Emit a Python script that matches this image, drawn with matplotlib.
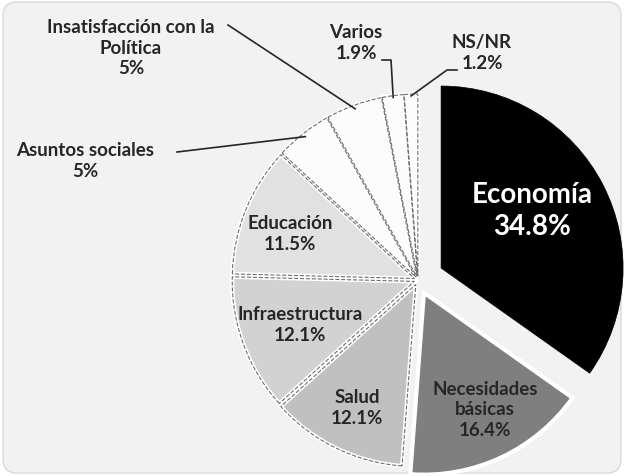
import numpy as np
import matplotlib
matplotlib.use("Agg")
import matplotlib.pyplot as plt
from matplotlib.patches import FancyBboxPatch

plt.rcParams['font.family'] = ['Lato', 'DejaVu Sans']

# data
categories = ["Economía", "Necesidades\nbásicas", "Salud", "Infraestructura", "Educación",
              "Asuntos sociales", "Insatisfacción con la\nPolítica", "Varios", "NS/NR"]
values = [34.8, 16.4, 12.1, 12.1, 11.5, 5, 5, 1.9, 1.2]
pct_labels = ["34.8%", "16.4%", "12.1%", "12.1%", "11.5%", "5%", "5%", "1.9%", "1.2%"]

colors = ["#000000", "#7f7f7f", "#c0c0c0", "#d2d2d2", "#e1e1e1",
          "#fcfcfc", "#fcfcfc", "#fcfcfc", "#fcfcfc"]
# explode offsets in pixels (axes are in pixel units)
explode = [26, 14, 5, 4, 4, 4, 4, 4, 4]

W, H = 624, 477
fig = plt.figure(figsize=(W / 100, H / 100), dpi=100)
ax = fig.add_axes([0, 0, 1, 1])

# chart area background
bg = FancyBboxPatch((3, 3), W - 6, H - 6, boxstyle="round,pad=0,rounding_size=14",
                    fc="#f2f2f2", ec="#d9d9d9", lw=1, zorder=0)
ax.add_patch(bg)

center = (418, 281)
radius = 182
# y axis is inverted below, so startangle=-90 + counterclock gives top start, clockwise
wedges, _ = ax.pie(values, colors=colors, explode=explode, startangle=-90,
                   counterclock=True, center=center, radius=radius,
                   wedgeprops=dict(edgecolor="white", linewidth=3))
wedges[0].set_edgecolor("black")
wedges[0].set_linewidth(0.5)
# dashed grey outlines on top of the white borders
outlines, _ = ax.pie(values, colors=["none"] * len(values), explode=explode, startangle=-90,
                     counterclock=True, center=center, radius=radius,
                     wedgeprops=dict(edgecolor="#6f6f6f", linewidth=0.8, linestyle="--",
                                     fill=False))
outlines[0].set_visible(False)
outlines[1].set_visible(False)

ax.set_xlim(0, W)
ax.set_ylim(H, 0)
ax.set_aspect("equal")
ax.axis("off")

txt = dict(ha="center", va="center", fontsize=13.5, fontweight="bold", color="#262626",
           linespacing=1.25)

# labels inside the slices
inside_pos = {0: (532, 211), 1: (485, 410), 2: (357, 408), 3: (300, 325), 4: (290, 234)}
for i, (x, y) in inside_pos.items():
    if i == 0:
        ax.text(x, y, categories[i] + "\n" + pct_labels[i], ha="center", va="center",
                fontsize=20, fontweight="bold", color="white", linespacing=1.25)
    else:
        ax.text(x, y, categories[i] + "\n" + pct_labels[i], **txt)


def edge_point(w, frac=1.0):
    mid = np.deg2rad((w.theta1 + w.theta2) / 2)
    cx, cy = w.center
    return cx + w.r * frac * np.cos(mid), cy + w.r * frac * np.sin(mid)


line = dict(color="#262626", lw=1.2)

# Insatisfacción con la Política
ax.text(131, 48, categories[6] + "\n" + pct_labels[6], **txt)
ex, ey = edge_point(wedges[6], 0.98)
ax.plot([228, ex], [26, ey], **line)

# Asuntos sociales
ax.text(85, 161, categories[5] + "\n" + pct_labels[5], **txt)
ex, ey = edge_point(wedges[5], 0.98)
ax.plot([177, ex], [153, ey], **line)

# Varios
ax.text(356, 43, categories[7] + "\n" + pct_labels[7], **txt)
ex, ey = edge_point(wedges[7], 0.99)
ax.plot([382, 391, ex], [61, 61, ey], **line)

# NS/NR
ax.text(482, 53, categories[8] + "\n" + pct_labels[8], **txt)
ex, ey = edge_point(wedges[8], 0.99)
ax.plot([457, 447, ex], [71, 71, ey], **line)

fig.savefig("out.png", dpi=100, facecolor="white")
